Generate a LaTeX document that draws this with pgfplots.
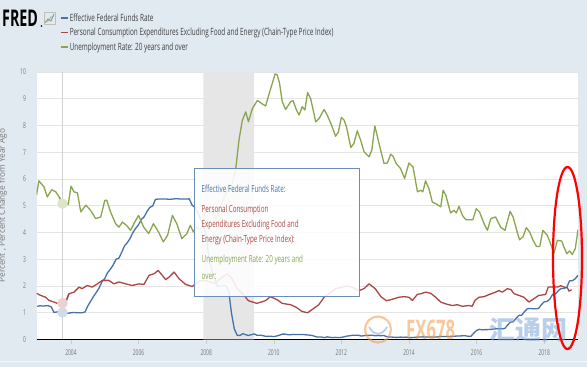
\documentclass[border=0pt]{standalone}
\usepackage{fontspec}
\usepackage{pgfplots}
\pgfplotsset{compat=1.18}
\setmainfont{Open Sans}[FakeStretch=0.62]
\newfontfamily\legfont{Open Sans}[FakeStretch=0.64]
\newfontfamily\plainfont{Open Sans}
\newfontfamily\cjk{Noto Sans CJK SC}
\definecolor{bgcol}{HTML}{E1E9F1}
\definecolor{gridcol}{HTML}{E4E4E4}
\definecolor{tickcol}{HTML}{777777}
\definecolor{fblue}{HTML}{4572A7}
\definecolor{fred}{HTML}{AA4643}
\definecolor{fgreen}{HTML}{89A54E}
\definecolor{recess}{HTML}{E6E6E6}
\definecolor{wmorange}{HTML}{F39A4A}
\definecolor{wmblue}{HTML}{7FA6D8}
\begin{document}
\begin{tikzpicture}[x=1pt,y=1pt]
\useasboundingbox (0,0) rectangle (587,367);
\fill[bgcol] (0,0) rectangle (587,367);
\draw[white!70!bgcol, line width=0.8pt] (0,6) -- (587,6);
\begin{axis}[
  at={(36.5pt,27.5pt)}, anchor=south west,
  scale only axis, width=541.5pt, height=267.5pt,
  xmin=2002.98, xmax=2019.0, ymin=0, ymax=10,
  axis line style={draw=none},
  axis background/.style={fill=white},
  ymajorgrids, grid style={color=gridcol, line width=0.7pt},
  ytick={0,1,...,10}, xtick={2004,2006,...,2018},
  /pgf/number format/assume math mode=true,
  /pgf/number format/1000 sep={},
  tick label style={font=\fontsize{8}{8}\selectfont, text=tickcol},
  ytick style={draw=none},
  xtick style={draw=gray!40, line width=0.5pt},
  major tick length=5pt, tick align=outside, tick pos=left,
  yticklabel style={xshift=-2pt},
  xticklabel style={yshift=-2pt},
  extra y ticks={0}, extra y tick labels={},
  extra y tick style={grid style={black, line width=1.6pt}},
  ylabel={\plainfont\fontsize{8.3}{8.3}\selectfont Percent , Percent Change from Year Ago},
  ylabel style={text=tickcol, at={(axis description cs:-0.048,0.5)}, anchor=south},
  legend style={at={(axis description cs:0.043,1.225)}, anchor=north west, draw=none, fill=none,
    font=\legfont\fontsize{10}{10}\selectfont, text=black!75, row sep=2.4pt, inner sep=0pt,
    nodes={inner sep=1.5pt}, cells={anchor=west}},
  legend image code/.code={\draw[#1, line width=1.3pt] (0pt,0pt) -- (7pt,0pt);},
  line join=round,
]
% recession band
\addplot[fill=recess, draw=none, forget plot] coordinates {(2007.917,0) (2007.917,10) (2009.417,10) (2009.417,0)} \closedcycle;
% hover crosshair
\addplot[gray!35, line width=0.6pt, forget plot] coordinates {(2003.75,0) (2003.75,10)};

\addplot[fblue, line width=1.3pt] coordinates {
(2003.000,1.24)(2003.083,1.26)(2003.167,1.25)(2003.250,1.26)(2003.333,1.26)(2003.417,1.22)(2003.500,1.01)(2003.583,1.03)(2003.667,1.01)(2003.750,1.01)(2003.833,1.00)(2003.917,0.98)
(2004.000,1.00)(2004.083,1.01)(2004.167,1.00)(2004.250,1.00)(2004.333,1.00)(2004.417,1.03)(2004.500,1.26)(2004.583,1.43)(2004.667,1.61)(2004.750,1.76)(2004.833,1.93)(2004.917,2.16)
(2005.000,2.28)(2005.083,2.50)(2005.167,2.63)(2005.250,2.79)(2005.333,3.00)(2005.417,3.04)(2005.500,3.26)(2005.583,3.50)(2005.667,3.62)(2005.750,3.78)(2005.833,4.00)(2005.917,4.16)
(2006.000,4.29)(2006.083,4.49)(2006.167,4.59)(2006.250,4.79)(2006.333,4.94)(2006.417,4.99)(2006.500,5.24)(2006.583,5.25)(2006.667,5.25)(2006.750,5.25)(2006.833,5.25)(2006.917,5.24)
(2007.000,5.25)(2007.083,5.26)(2007.167,5.26)(2007.250,5.25)(2007.333,5.25)(2007.417,5.25)(2007.500,5.26)(2007.583,5.02)(2007.667,4.94)(2007.750,4.76)(2007.833,4.49)(2007.917,4.24)
(2008.000,3.94)(2008.083,2.98)(2008.167,2.61)(2008.250,2.28)(2008.333,1.98)(2008.417,2.00)(2008.500,2.01)(2008.583,2.00)(2008.667,1.81)(2008.750,0.97)(2008.833,0.39)(2008.917,0.16)
(2009.000,0.15)(2009.083,0.22)(2009.167,0.18)(2009.250,0.15)(2009.333,0.18)(2009.417,0.21)(2009.500,0.16)(2009.583,0.16)(2009.667,0.15)(2009.750,0.12)(2009.833,0.12)(2009.917,0.12)
(2010.000,0.11)(2010.083,0.13)(2010.167,0.16)(2010.250,0.20)(2010.333,0.20)(2010.417,0.18)(2010.500,0.18)(2010.583,0.19)(2010.667,0.19)(2010.750,0.19)(2010.833,0.19)(2010.917,0.18)
(2011.000,0.17)(2011.083,0.16)(2011.167,0.14)(2011.250,0.10)(2011.333,0.09)(2011.417,0.09)(2011.500,0.07)(2011.583,0.10)(2011.667,0.08)(2011.750,0.07)(2011.833,0.08)(2011.917,0.07)
(2012.000,0.08)(2012.083,0.10)(2012.167,0.13)(2012.250,0.14)(2012.333,0.16)(2012.417,0.16)(2012.500,0.16)(2012.583,0.13)(2012.667,0.14)(2012.750,0.16)(2012.833,0.16)(2012.917,0.16)
(2013.000,0.14)(2013.083,0.15)(2013.167,0.14)(2013.250,0.15)(2013.333,0.11)(2013.417,0.09)(2013.500,0.09)(2013.583,0.08)(2013.667,0.08)(2013.750,0.09)(2013.833,0.08)(2013.917,0.09)
(2014.000,0.07)(2014.083,0.07)(2014.167,0.08)(2014.250,0.09)(2014.333,0.09)(2014.417,0.10)(2014.500,0.09)(2014.583,0.09)(2014.667,0.09)(2014.750,0.09)(2014.833,0.09)(2014.917,0.12)
(2015.000,0.11)(2015.083,0.11)(2015.167,0.11)(2015.250,0.12)(2015.333,0.12)(2015.417,0.13)(2015.500,0.13)(2015.583,0.14)(2015.667,0.14)(2015.750,0.12)(2015.833,0.12)(2015.917,0.24)
(2016.000,0.34)(2016.083,0.38)(2016.167,0.36)(2016.250,0.37)(2016.333,0.37)(2016.417,0.38)(2016.500,0.39)(2016.583,0.40)(2016.667,0.40)(2016.750,0.40)(2016.833,0.41)(2016.917,0.54)
(2017.000,0.65)(2017.083,0.66)(2017.167,0.79)(2017.250,0.90)(2017.333,0.91)(2017.417,1.04)(2017.500,1.15)(2017.583,1.16)(2017.667,1.15)(2017.750,1.15)(2017.833,1.16)(2017.917,1.30)
(2018.000,1.41)(2018.083,1.42)(2018.167,1.51)(2018.250,1.69)(2018.333,1.70)(2018.417,1.82)(2018.500,1.91)(2018.583,1.91)(2018.667,1.95)(2018.750,2.19)(2018.833,2.20)(2018.917,2.27)
(2019.000,2.40)};
\addlegendentry{Effective Federal Funds Rate}

\addplot[fred, line width=1.3pt] coordinates {
(2002.98,1.73)(2003.10,1.65)(2003.25,1.58)(2003.35,1.46)(2003.50,1.40)(2003.60,1.35)(2003.70,1.38)(2003.75,1.33)(2003.84,1.38)(2003.94,1.71)
(2004.09,1.77)(2004.24,1.96)(2004.33,1.90)(2004.48,2.02)(2004.63,1.96)(2004.78,2.08)(2004.93,2.21)
(2005.12,2.21)(2005.27,2.08)(2005.42,2.15)(2005.62,2.08)(2005.81,2.02)
(2006.01,2.08)(2006.16,2.06)(2006.31,2.40)(2006.46,2.46)(2006.58,2.58)(2006.70,2.40)(2006.80,2.24)(2006.90,2.33)
(2007.05,2.52)(2007.20,2.27)(2007.39,2.06)(2007.59,1.98)(2007.69,2.08)(2007.83,2.20)
(2008.00,2.20)(2008.25,2.10)(2008.50,2.35)(2008.62,2.45)(2008.75,2.30)(2008.92,1.90)
(2009.08,1.70)(2009.25,1.45)(2009.50,1.35)(2009.75,1.45)(2009.90,1.60)
(2010.08,1.50)(2010.25,1.35)(2010.50,1.30)(2010.67,1.20)(2010.83,1.05)
(2011.00,1.00)(2011.17,1.15)(2011.33,1.30)(2011.50,1.60)(2011.67,1.75)(2011.83,1.90)
(2012.00,1.95)(2012.17,2.00)(2012.33,1.95)(2012.52,1.83)(2012.67,1.90)(2012.82,2.08)
(2013.00,1.90)(2013.17,1.60)(2013.33,1.45)(2013.50,1.50)(2013.70,1.58)(2013.85,1.60)
(2014.00,1.58)(2014.10,1.46)(2014.25,1.69)(2014.35,1.71)(2014.49,1.77)(2014.64,1.73)(2014.79,1.58)(2014.94,1.40)
(2015.09,1.33)(2015.28,1.27)(2015.43,1.30)(2015.58,1.24)(2015.78,1.27)(2015.87,1.24)(2015.95,1.46)
(2016.07,1.58)(2016.22,1.60)(2016.37,1.68)(2016.56,1.77)(2016.66,1.83)(2016.76,1.77)(2016.91,1.90)
(2017.01,1.87)(2017.11,1.71)(2017.25,1.65)(2017.40,1.58)(2017.55,1.40)(2017.69,1.52)(2017.84,1.65)
(2018.04,1.68)(2018.12,1.96)(2018.24,1.96)(2018.39,1.96)(2018.49,2.01)(2018.59,1.96)(2018.69,1.93)(2018.73,1.81)(2018.81,1.86)};
\addlegendentry{Personal Consumption Expenditures Excluding Food and Energy (Chain-Type Price Index)}

\addplot[fgreen, line width=1.3pt] coordinates {
(2002.98,5.40)(2003.05,5.93)(2003.20,5.71)(2003.30,5.33)(2003.43,5.60)(2003.55,5.52)(2003.65,5.33)(2003.75,5.08)(2003.84,5.14)(2003.92,5.05)
(2004.00,5.73)(2004.09,5.52)(2004.19,5.48)(2004.29,4.77)(2004.44,5.02)(2004.58,4.83)(2004.73,4.52)(2004.88,4.58)
(2005.00,5.20)(2005.06,5.20)(2005.17,4.77)(2005.32,4.33)(2005.42,4.20)(2005.52,4.39)(2005.65,4.26)(2005.76,4.08)(2005.86,4.33)
(2006.00,4.64)(2006.15,4.20)(2006.30,3.96)(2006.44,4.33)(2006.59,4.02)(2006.73,3.65)(2006.86,3.90)
(2007.00,4.64)(2007.13,4.33)(2007.28,3.77)(2007.43,3.96)(2007.53,4.27)(2007.62,4.02)(2007.72,4.20)(2007.82,4.10)(2007.92,4.40)
(2008.00,4.90)(2008.10,4.80)(2008.20,4.80)(2008.30,4.50)(2008.40,4.90)(2008.50,5.20)(2008.60,5.50)(2008.66,5.80)(2008.72,5.60)(2008.80,6.00)(2008.87,6.33)
(2008.97,7.45)(2009.07,8.20)(2009.17,8.51)(2009.25,8.14)(2009.37,8.64)(2009.51,8.93)(2009.57,8.89)(2009.63,8.83)(2009.76,8.73)(2009.88,9.26)
(2010.04,9.93)(2010.10,9.89)(2010.17,9.58)(2010.25,8.89)(2010.35,8.60)(2010.50,8.89)(2010.57,8.93)(2010.67,8.58)(2010.75,8.39)(2010.84,8.70)(2010.92,8.58)
(2011.00,9.23)(2011.09,9.01)(2011.24,8.14)(2011.34,8.26)(2011.49,8.60)(2011.58,8.39)(2011.71,8.01)(2011.83,7.60)(2011.91,7.76)
(2012.00,8.30)(2012.08,8.20)(2012.15,7.95)(2012.28,7.18)(2012.37,7.33)(2012.47,7.80)(2012.57,7.45)(2012.67,7.02)(2012.82,6.83)(2012.90,7.08)
(2012.99,7.98)(2013.09,7.45)(2013.26,6.58)(2013.36,6.60)(2013.46,6.93)(2013.53,6.85)(2013.62,6.58)(2013.75,6.39)(2013.87,6.02)
(2014.00,6.60)(2014.12,6.45)(2014.25,5.52)(2014.35,5.58)(2014.41,5.52)(2014.49,5.93)(2014.59,5.64)(2014.69,5.14)(2014.79,5.08)(2014.94,4.96)
(2015.01,5.58)(2015.09,5.39)(2015.23,4.73)(2015.33,4.83)(2015.40,4.73)(2015.48,4.98)(2015.58,4.64)(2015.68,4.48)(2015.83,4.48)(2015.89,4.48)
(2015.99,4.89)(2016.09,4.76)(2016.22,4.33)(2016.32,4.08)(2016.42,4.52)(2016.56,4.58)(2016.71,4.20)(2016.84,4.08)
(2016.99,4.79)(2017.08,4.58)(2017.20,4.02)(2017.27,3.73)(2017.37,3.83)(2017.47,4.18)(2017.57,4.02)(2017.67,3.71)(2017.77,3.48)(2017.87,3.48)
(2017.96,4.08)(2018.09,3.90)(2018.19,3.58)(2018.29,3.23)(2018.39,3.71)(2018.52,3.68)(2018.59,3.43)(2018.67,3.21)(2018.75,3.31)(2018.83,3.18)(2018.92,3.40)(2019.00,4.11)};
\addlegendentry{Unemployment Rate: 20 years and over}

% hover halos
\addplot[only marks, mark=*, mark size=5pt, color=fgreen!30, mark options={draw=fgreen!30, fill=fgreen!30}, forget plot] coordinates {(2003.75,5.08)};
\addplot[only marks, mark=*, mark size=5pt, color=fred!25, mark options={draw=fred!25, fill=fred!25}, forget plot] coordinates {(2003.75,1.36)};
\addplot[only marks, mark=*, mark size=5pt, color=fblue!25, mark options={draw=fblue!25, fill=fblue!25}, forget plot] coordinates {(2003.75,1.01)};
% redraw lines over halos near the hover point
\addplot[fblue, line width=1.3pt, forget plot] coordinates {(2003.583,1.03)(2003.667,1.01)(2003.750,1.01)(2003.833,1.00)(2003.917,0.98)};
\addplot[fred, line width=1.3pt, forget plot] coordinates {(2003.60,1.35)(2003.70,1.38)(2003.75,1.33)(2003.84,1.38)(2003.94,1.71)};
\addplot[fgreen, line width=1.3pt, forget plot] coordinates {(2003.65,5.33)(2003.75,5.08)(2003.84,5.14)(2003.92,5.05)};
\end{axis}

% FRED logo
\node[anchor=west, inner sep=0pt] at (2,348.5) {\fontsize{23}{23}\bfseries FRED};
\fill[black] (41.5,341) circle (0.8);
\draw[gray!50, line width=0.4pt] (44,343) rectangle (55,355);
\draw[fgreen, line width=0.9pt] (45,344) -- (48,348) -- (51,346) -- (54,353);
\draw[fblue!60, line width=0.7pt] (45,345) -- (48,346) -- (51,350) -- (54,351);

% tooltip
\filldraw[fill=white, fill opacity=0.88, draw=fblue!80, line width=0.7pt] (194.5,71) rectangle (359,199);
\begin{scope}[every node/.style={anchor=west, inner sep=0pt, font=\legfont\fontsize{9.8}{9.8}\selectfont}]
\node[text=fblue] at (201.5,177.7) {Effective Federal Funds Rate:};
\node[text=fred] at (201.5,157) {Personal Consumption};
\node[text=fred] at (201.5,142) {Expenditures Excluding Food and};
\node[text=fred] at (201.5,127) {Energy (Chain-Type Price Index):};
\node[text=fgreen] at (201.5,107) {Unemployment Rate: 20 years and};
\node[text=fgreen] at (201.5,90.3) {over:};
\end{scope}

% watermark
\begin{scope}[opacity=0.55]
\draw[wmorange, line width=2.2pt] (378,37.5) circle (13);
\draw[wmblue, line width=1.8pt] (369,40) .. controls (374,31) and (382,31) .. (387,40);
\node[anchor=west, inner sep=0pt, text=wmorange] at (406,37.5) {\fontsize{27}{27}\bfseries FX678};
\node[anchor=west, inner sep=0pt, text=wmblue] at (489,37.5) {\cjk\fontsize{26}{26}\selectfont\bfseries 汇通网};
\end{scope}

% red oval
\draw[red, line width=2.2pt] (567.5,109) ellipse (14.5 and 91);
\end{tikzpicture}
\end{document}
